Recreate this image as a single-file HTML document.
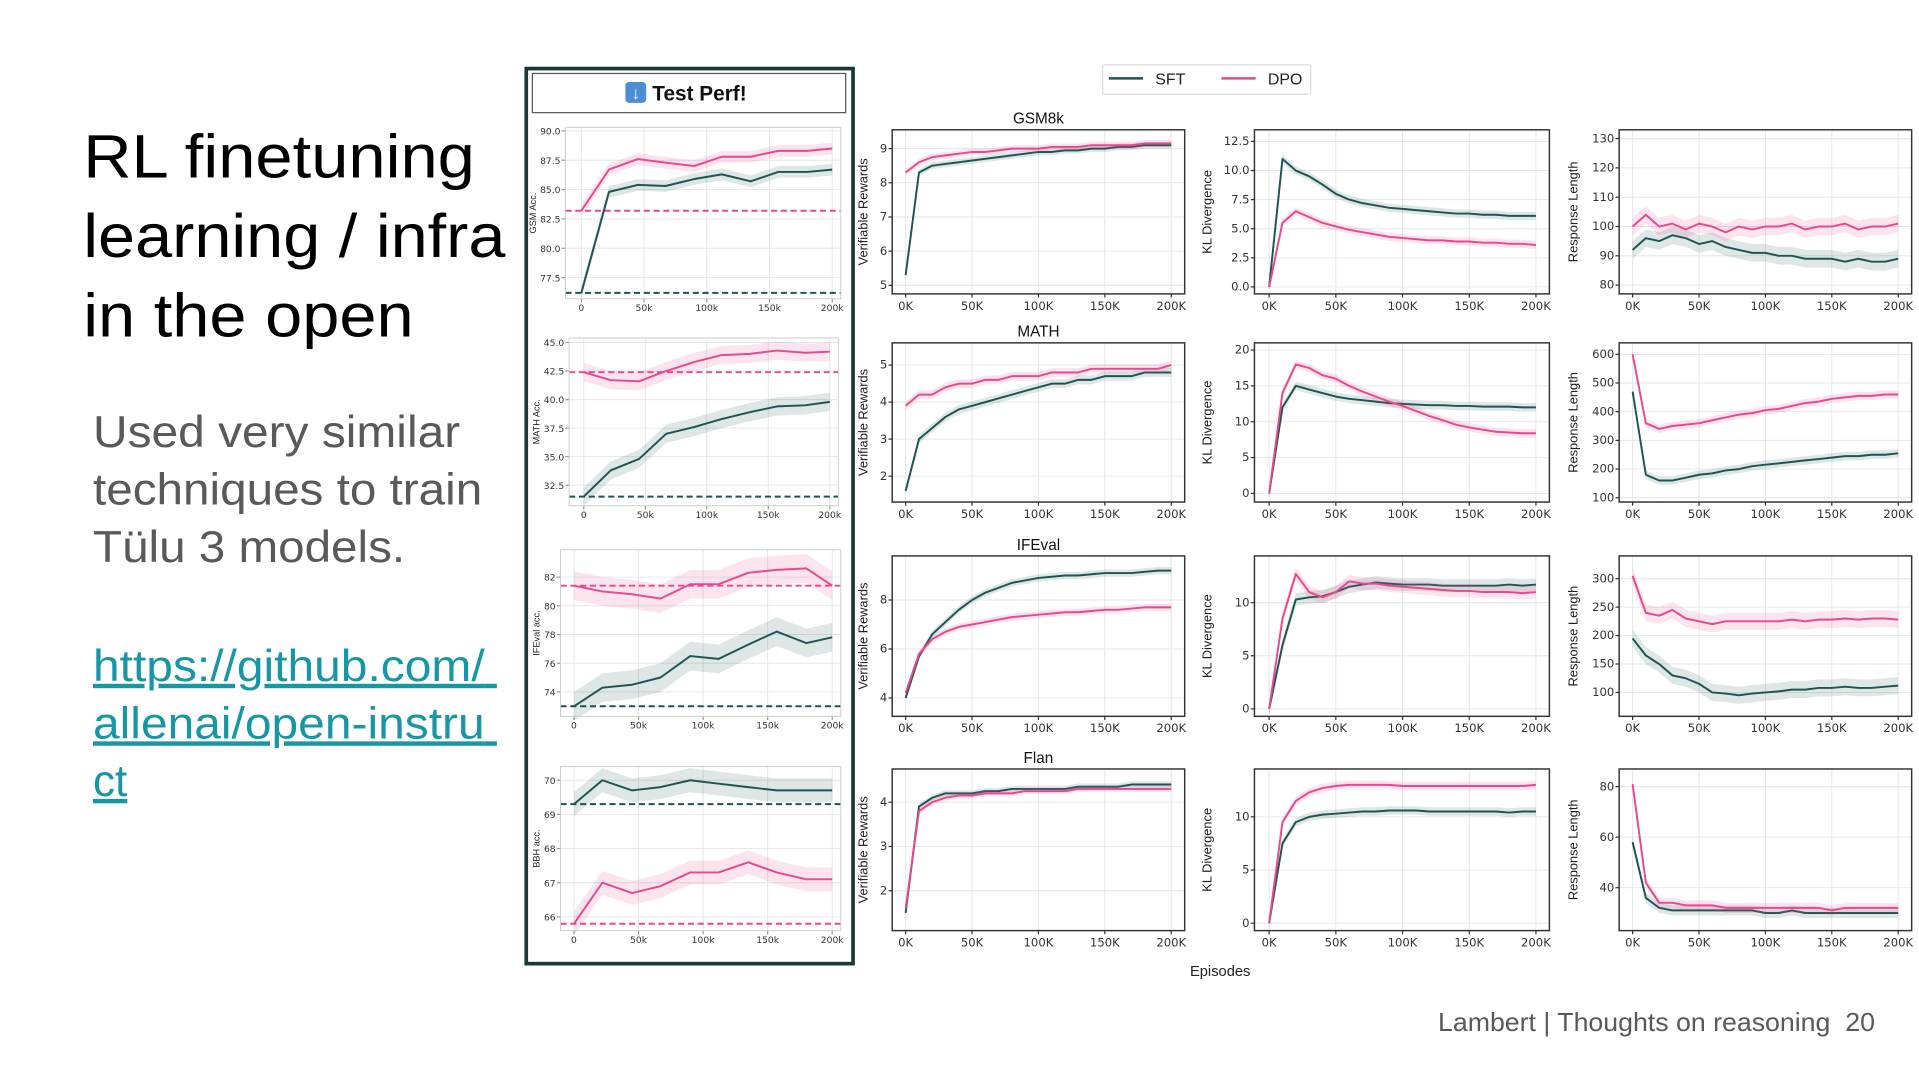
<!DOCTYPE html>
<html><head><meta charset="utf-8"><style>
html,body{margin:0;padding:0;background:#fff;}
svg{display:block;}
text{font-family:"Liberation Sans","DejaVu Sans",sans-serif;}
.tk{font-family:"DejaVu Sans","Liberation Sans",sans-serif;font-size:9.5px;fill:#333;}
.tk.sm{font-size:7.5px;}
</style></head><body>
<svg id="slide" width="1919" height="1080" viewBox="0 0 1568 882" preserveAspectRatio="none" xmlns="http://www.w3.org/2000/svg">
<text font-size="50" fill="#000">
<tspan x="68" y="145" textLength="320" lengthAdjust="spacingAndGlyphs">RL finetuning</tspan>
<tspan x="68" y="210" textLength="345" lengthAdjust="spacingAndGlyphs">learning / infra</tspan>
<tspan x="68" y="275" textLength="270" lengthAdjust="spacingAndGlyphs">in the open</tspan></text>
<text font-size="36" fill="#595959">
<tspan x="76" y="365" textLength="300" lengthAdjust="spacingAndGlyphs">Used very similar</tspan>
<tspan x="76" y="412" textLength="318" lengthAdjust="spacingAndGlyphs">techniques to train</tspan>
<tspan x="76" y="459" textLength="255" lengthAdjust="spacingAndGlyphs">Tülu 3 models.</tspan></text>
<text font-size="36" fill="#1796a6" text-decoration="underline">
<tspan x="76" y="556" textLength="320" lengthAdjust="spacingAndGlyphs">https://github.com/</tspan>
<tspan x="76" y="603" textLength="320" lengthAdjust="spacingAndGlyphs">allenai/open-instru</tspan>
<tspan x="76" y="650">ct</tspan></text>
<text x="1175" y="842" font-size="21" fill="#595959" textLength="357" lengthAdjust="spacingAndGlyphs" xml:space="preserve">Lambert | Thoughts on reasoning  20</text>
<rect x="430" y="56" width="267" height="731" fill="none" stroke="#1b3838" stroke-width="3"/>
<rect x="435" y="60" width="256" height="32" fill="#fff" stroke="#555" stroke-width="1"/>
<rect x="511" y="67" width="17" height="17" rx="3" fill="#4a8fd6"/>
<text x="519.5" y="81" font-size="14" fill="#fff" text-anchor="middle" font-weight="bold">↓</text>
<text x="533" y="82" font-size="17" font-weight="bold" fill="#111">Test Perf!</text>
<rect x="901" y="53" width="170" height="24" fill="#fff" stroke="#ddd" rx="2"/>
<line x1="906" y1="64" x2="934" y2="64" stroke="#1f5454" stroke-width="2"/>
<text x="944" y="69" font-size="13" fill="#222" font-family="DejaVu Sans">SFT</text>
<line x1="998" y1="64" x2="1026" y2="64" stroke="#e8488e" stroke-width="2"/>
<text x="1036" y="69" font-size="13" fill="#222" font-family="DejaVu Sans">DPO</text>
<text x="997" y="797" font-size="12" fill="#222" text-anchor="middle" font-family="DejaVu Sans">Episodes</text>
<g id="charts"></g>
</svg>
<script>
const NS="http://www.w3.org/2000/svg";
const STEPS=[0,10,20,30,40,50,60,70,80,90,100,110,120,130,140,150,160,170,180,190,200];
const EVAL_STEPS=[0,22,45,67,90,112,135,157,180,200];
const TRAIN_TICKS=[0,50,100,150,200];
const TRAIN_TICK_LABELS=["0K","50K","100K","150K","200K"];
const EVAL_TICK_LABELS=["0","50k","100k","150k","200k"];
// row 1 GSM8k
const gsmRewSFT=[5.3,8.3,8.5,8.55,8.6,8.65,8.7,8.75,8.8,8.85,8.9,8.9,8.95,8.95,9.0,9.0,9.05,9.05,9.1,9.1,9.1];
const gsmRewDPO=[8.3,8.6,8.75,8.8,8.85,8.9,8.9,8.95,9.0,9.0,9.0,9.05,9.05,9.05,9.1,9.1,9.1,9.1,9.15,9.15,9.15];
const gsmKlSFT=[0,11,10,9.5,8.8,8,7.5,7.2,7,6.8,6.7,6.6,6.5,6.4,6.3,6.3,6.2,6.2,6.1,6.1,6.1];
const gsmKlDPO=[0,5.5,6.5,6.0,5.5,5.2,4.9,4.7,4.5,4.3,4.2,4.1,4.0,4.0,3.9,3.9,3.8,3.8,3.7,3.7,3.6];
const gsmLenSFT=[92,96,95,97,96,94,95,93,92,91,91,90,90,89,89,89,88,89,88,88,89];
const gsmLenDPO=[100,104,100,101,99,101,100,98,100,99,100,100,101,99,100,100,101,99,100,100,101];
// row 2 MATH
const mathRewSFT=[1.6,3.0,3.3,3.6,3.8,3.9,4.0,4.1,4.2,4.3,4.4,4.5,4.5,4.6,4.6,4.7,4.7,4.7,4.8,4.8,4.8];
const mathRewDPO=[3.9,4.2,4.2,4.4,4.5,4.5,4.6,4.6,4.7,4.7,4.7,4.8,4.8,4.8,4.9,4.9,4.9,4.9,4.9,4.9,5.0];
const mathKlSFT=[0,12,15,14.5,14,13.5,13.2,13,12.8,12.6,12.5,12.4,12.3,12.3,12.2,12.2,12.1,12.1,12.1,12.0,12.0];
const mathKlDPO=[0,14,18,17.5,16.5,16,15,14.2,13.5,12.8,12.2,11.5,10.8,10.2,9.6,9.2,8.9,8.6,8.5,8.4,8.4];
const mathLenSFT=[470,180,160,160,170,180,185,195,200,210,215,220,225,230,235,240,245,245,250,250,255];
const mathLenDPO=[600,360,340,350,355,360,370,380,390,395,405,410,420,430,435,445,450,455,455,460,460];
// row 3 IFEval
const ifRewSFT=[4.0,5.7,6.6,7.1,7.6,8.0,8.3,8.5,8.7,8.8,8.9,8.95,9.0,9.0,9.05,9.1,9.1,9.1,9.15,9.2,9.2];
const ifRewDPO=[4.2,5.8,6.4,6.7,6.9,7.0,7.1,7.2,7.3,7.35,7.4,7.45,7.5,7.5,7.55,7.6,7.6,7.65,7.7,7.7,7.7];
const ifKlSFT=[0,6,10.3,10.5,10.6,11.0,11.5,11.7,11.9,11.8,11.7,11.7,11.7,11.6,11.6,11.6,11.6,11.6,11.7,11.6,11.7];
const ifKlDPO=[0,8.5,12.7,11,10.5,11,12,11.8,11.8,11.6,11.5,11.4,11.3,11.2,11.1,11.1,11.0,11.0,11.0,10.9,11.0];
const ifLenSFT=[195,165,150,130,125,115,100,98,95,98,100,102,105,105,108,108,110,108,108,110,112];
const ifLenDPO=[305,240,235,245,230,225,220,225,225,225,225,225,228,225,228,228,230,228,230,230,228];
// row 4 Flan
const flanRewSFT=[1.5,3.9,4.1,4.2,4.2,4.2,4.25,4.25,4.3,4.3,4.3,4.3,4.3,4.35,4.35,4.35,4.35,4.4,4.4,4.4,4.4];
const flanRewDPO=[1.6,3.8,4.0,4.1,4.15,4.15,4.2,4.2,4.2,4.25,4.25,4.25,4.25,4.3,4.3,4.3,4.3,4.3,4.3,4.3,4.3];
const flanKlSFT=[0,7.5,9.5,10,10.2,10.3,10.4,10.5,10.5,10.6,10.6,10.6,10.5,10.5,10.5,10.5,10.5,10.5,10.4,10.5,10.5];
const flanKlDPO=[0,9.5,11.5,12.3,12.7,12.9,13,13,13,13,12.9,12.9,12.9,12.9,12.9,12.9,12.9,12.9,12.9,12.9,13.0];
const flanLenSFT=[58,36,32,31,31,31,31,31,31,31,30,30,31,30,30,30,30,30,30,30,30];
const flanLenDPO=[81,42,34,34,33,33,33,32,32,32,32,32,32,32,32,31,32,32,32,32,32];
// eval panel
const evalGsmSFT=[76.2,84.8,85.4,85.3,85.9,86.3,85.7,86.5,86.5,86.7];
const evalGsmDPO=[83.2,86.7,87.6,87.3,87.0,87.8,87.8,88.3,88.3,88.5];
const evalMathSFT=[31.5,33.8,34.8,37.0,37.6,38.3,38.9,39.4,39.5,39.8];
const evalMathDPO=[42.4,41.7,41.6,42.5,43.3,43.9,44.0,44.3,44.1,44.2];
const evalIfSFT=[73.0,74.3,74.5,75.0,76.5,76.3,77.3,78.2,77.4,77.8];
const evalIfDPO=[81.4,81.0,80.8,80.5,81.5,81.5,82.3,82.5,82.6,81.4];
const evalBbhSFT=[69.3,70.0,69.7,69.8,70.0,69.9,69.8,69.7,69.7,69.7];
const evalBbhDPO=[65.8,67.0,66.7,66.9,67.3,67.3,67.6,67.3,67.1,67.1];
const baseGsm=[76.2,83.2], baseMath=[31.5,42.4], baseIf=[73.0,81.4], baseBbh=[69.3,65.8];

const SFT_C="#1f5454", DPO_C="#e8488e";
const root=document.getElementById("charts");
function el(tag,parent){const e=document.createElementNS(NS,tag);parent.appendChild(e);return e;}

function drawChart(c){
  const g=el("g",root);
  
  
  const sx=v=>c.px0+v/200*(c.px200-c.px0);
  const sy=v=>c.b-(v-c.ymin)/(c.ymax-c.ymin)*(c.b-c.t);
  const tkCls=c.small?"tk sm":"tk";
  const bg=el("rect",g);
  bg.setAttribute("x",c.l);bg.setAttribute("y",c.t);bg.setAttribute("width",c.r-c.l);bg.setAttribute("height",c.b-c.t);
  bg.setAttribute("fill","#fff");
  
  
  c.xticks.forEach((v,i)=>{
    const x=sx(v);
    const ln=el("line",g);ln.setAttribute("x1",x);ln.setAttribute("x2",x);ln.setAttribute("y1",c.t);ln.setAttribute("y2",c.b);ln.setAttribute("stroke","#e6e6e6");ln.setAttribute("stroke-width","0.8");
    const tk=el("line",g);tk.setAttribute("x1",x);tk.setAttribute("x2",x);tk.setAttribute("y1",c.b);tk.setAttribute("y2",c.b+3);tk.setAttribute("stroke",c.small?"#999":"#333");
    const t=el("text",g);t.setAttribute("x",x);t.setAttribute("y",c.b+(c.small?10:13));t.setAttribute("text-anchor","middle");t.setAttribute("class",tkCls);
    t.textContent=c.xlabels[i];
    
    
  });
  c.yticks.forEach((v,i)=>{
    const y=sy(v);
    const ln=el("line",g);ln.setAttribute("x1",c.l);ln.setAttribute("x2",c.r);ln.setAttribute("y1",y);ln.setAttribute("y2",y);ln.setAttribute("stroke","#e6e6e6");ln.setAttribute("stroke-width","0.8");
    const tk=el("line",g);tk.setAttribute("x1",c.l-3);tk.setAttribute("x2",c.l);tk.setAttribute("y1",y);tk.setAttribute("y2",y);tk.setAttribute("stroke",c.small?"#999":"#333");
    const t=el("text",g);t.setAttribute("x",c.l-4);t.setAttribute("y",y+3);t.setAttribute("text-anchor","end");t.setAttribute("class",tkCls);
    t.textContent=c.ylabels[i];
    
    
  });
  (c.base||[]).forEach((v,i)=>{
    const ln=el("line",g);const y=sy(v);
    ln.setAttribute("x1",c.l);ln.setAttribute("x2",c.r);ln.setAttribute("y1",y);ln.setAttribute("y2",y);
    ln.setAttribute("stroke",i===0?SFT_C:DPO_C);ln.setAttribute("stroke-width","1.6");ln.setAttribute("stroke-dasharray","5,3");
    
    
  });
  c.series.forEach((s,si)=>{
    const col=si===0?SFT_C:DPO_C;
    const up=s.map((v,i)=>sx(c.xs[i]).toFixed(1)+","+sy(v+c.band).toFixed(1));
    const dn=s.map((v,i)=>sx(c.xs[i]).toFixed(1)+","+sy(v-c.band).toFixed(1)).reverse();
    const band=el("polygon",g);band.setAttribute("points",up.concat(dn).join(" "));band.setAttribute("fill",col);band.setAttribute("fill-opacity","0.15");
    
    
    const pl=el("polyline",g);
    pl.setAttribute("points",s.map((v,i)=>sx(c.xs[i]).toFixed(1)+","+sy(v).toFixed(1)).join(" "));
    pl.setAttribute("fill","none");pl.setAttribute("stroke",col);pl.setAttribute("stroke-width","1.6");pl.setAttribute("stroke-linejoin","round");
    
    
  });
  const fr=el("rect",g);
  fr.setAttribute("x",c.l);fr.setAttribute("y",c.t);fr.setAttribute("width",c.r-c.l);fr.setAttribute("height",c.b-c.t);
  fr.setAttribute("fill","none");fr.setAttribute("stroke",c.small?"#ccc":"#333");fr.setAttribute("stroke-width",c.small?"0.8":"1.2");
  const yt=el("text",g);
  const ym=(c.t+c.b)/2;
  yt.setAttribute("transform","translate("+c.ytx+","+ym+") rotate(-90)");
  yt.setAttribute("text-anchor","middle");yt.setAttribute("font-size",c.small?"7.5":"10.5");yt.setAttribute("fill","#222");
  yt.setAttribute("font-family","DejaVu Sans");
  yt.textContent=c.ytitle;
  
  
  if(c.title){
    const tt=el("text",g);tt.setAttribute("x",(c.l+c.r)/2);tt.setAttribute("y",c.t-5);tt.setAttribute("text-anchor","middle");
    tt.setAttribute("font-size","12.5");tt.setAttribute("fill","#111");tt.setAttribute("font-family","DejaVu Sans");
    tt.textContent=c.title;
    
    
  }
}

const cols=[{l:729,r:968,px0:740,px200:957,ytx:709},{l:1025,r:1266,px0:1037,px200:1255,ytx:990},{l:1323,r:1562,px0:1334,px200:1551,ytx:1289}];
const rows=[{t:106,b:240},{t:280,b:410},{t:454,b:585},{t:628,b:760}];
const titles=["GSM8k","MATH","IFEval","Flan"];
const specs=[
 [{y:[4.75,9.55],ticks:[5,6,7,8,9],s:[gsmRewSFT,gsmRewDPO],band:0.1,yt:"Verifiable Rewards"},
  {y:[-0.6,13.5],ticks:[0,2.5,5,7.5,10,12.5],lab:["0.0","2.5","5.0","7.5","10.0","12.5"],s:[gsmKlSFT,gsmKlDPO],band:0.35,yt:"KL Divergence"},
  {y:[77,133],ticks:[80,90,100,110,120,130],s:[gsmLenSFT,gsmLenDPO],band:3,yt:"Response Length"}],
 [{y:[1.3,5.6],ticks:[2,3,4,5],s:[mathRewSFT,mathRewDPO],band:0.12,yt:"Verifiable Rewards"},
  {y:[-1.2,21],ticks:[0,5,10,15,20],s:[mathKlSFT,mathKlDPO],band:0.6,yt:"KL Divergence"},
  {y:[85,640],ticks:[100,200,300,400,500,600],s:[mathLenSFT,mathLenDPO],band:15,yt:"Response Length"}],
 [{y:[3.25,9.8],ticks:[4,6,8],s:[ifRewSFT,ifRewDPO],band:0.15,yt:"Verifiable Rewards"},
  {y:[-0.7,14.4],ticks:[0,5,10],s:[ifKlSFT,ifKlDPO],band:0.6,yt:"KL Divergence"},
  {y:[58,340],ticks:[100,150,200,250,300],s:[ifLenSFT,ifLenDPO],band:15,yt:"Response Length"}],
 [{y:[1.1,4.75],ticks:[2,3,4],s:[flanRewSFT,flanRewDPO],band:0.07,yt:"Verifiable Rewards"},
  {y:[-0.7,14.5],ticks:[0,5,10],s:[flanKlSFT,flanKlDPO],band:0.4,yt:"KL Divergence"},
  {y:[23,87],ticks:[40,60,80],s:[flanLenSFT,flanLenDPO],band:2,yt:"Response Length"}]
];
specs.forEach((row,ri)=>row.forEach((sp,ci)=>{
  const C=cols[ci],R=rows[ri];
  drawChart({name:(titles[ri].toLowerCase()+"-"+["rewards","kl","length"][ci]+"-chart"),
    l:C.l,r:C.r,px0:C.px0,px200:C.px200,t:R.t,b:R.b,ymin:sp.y[0],ymax:sp.y[1],
    yticks:sp.ticks,ylabels:sp.lab||sp.ticks.map(String),xticks:TRAIN_TICKS,xlabels:TRAIN_TICK_LABELS,
    xs:STEPS,series:sp.s,band:sp.band,ytx:C.ytx,ytitle:sp.yt,title:ci===0?titles[ri]:null});
}));

const evalSpecs=[
 {name:"eval-gsm-chart",l:462,r:687,t:104,b:244,px0:475,px200:680,y:[75.7,90.3],ticks:[77.5,80,82.5,85,87.5,90],lab:["77.5","80.0","82.5","85.0","87.5","90.0"],s:[evalGsmSFT,evalGsmDPO],base:baseGsm,band:0.5,yt:"GSM Acc."},
 {name:"eval-math-chart",l:465,r:685,t:276,b:413,px0:477,px200:678,y:[30.7,45.4],ticks:[32.5,35,37.5,40,42.5,45],lab:["32.5","35.0","37.5","40.0","42.5","45.0"],s:[evalMathSFT,evalMathDPO],base:baseMath,band:0.8,yt:"MATH Acc."},
 {name:"eval-ifeval-chart",l:458,r:687,t:449,b:585,px0:469,px200:680,y:[72.3,83.9],ticks:[74,76,78,80,82],s:[evalIfSFT,evalIfDPO],base:baseIf,band:1.0,yt:"IFEval acc."},
 {name:"eval-bbh-chart",l:458,r:687,t:626,b:760,px0:469,px200:680,y:[65.6,70.4],ticks:[66,67,68,69,70],s:[evalBbhSFT,evalBbhDPO],base:baseBbh,band:0.35,yt:"BBH acc."}
];
evalSpecs.forEach(e=>drawChart({name:e.name,l:e.l,r:e.r,t:e.t,b:e.b,px0:e.px0,px200:e.px200,ymin:e.y[0],ymax:e.y[1],
  yticks:e.ticks,ylabels:e.lab||e.ticks.map(String),xticks:TRAIN_TICKS,xlabels:EVAL_TICK_LABELS,xs:EVAL_STEPS,
  series:e.s,base:e.base,band:e.band,ytx:(e.l>460?e.l-24:e.l-17),ytitle:e.yt,small:true}));
</script>
</body></html>
